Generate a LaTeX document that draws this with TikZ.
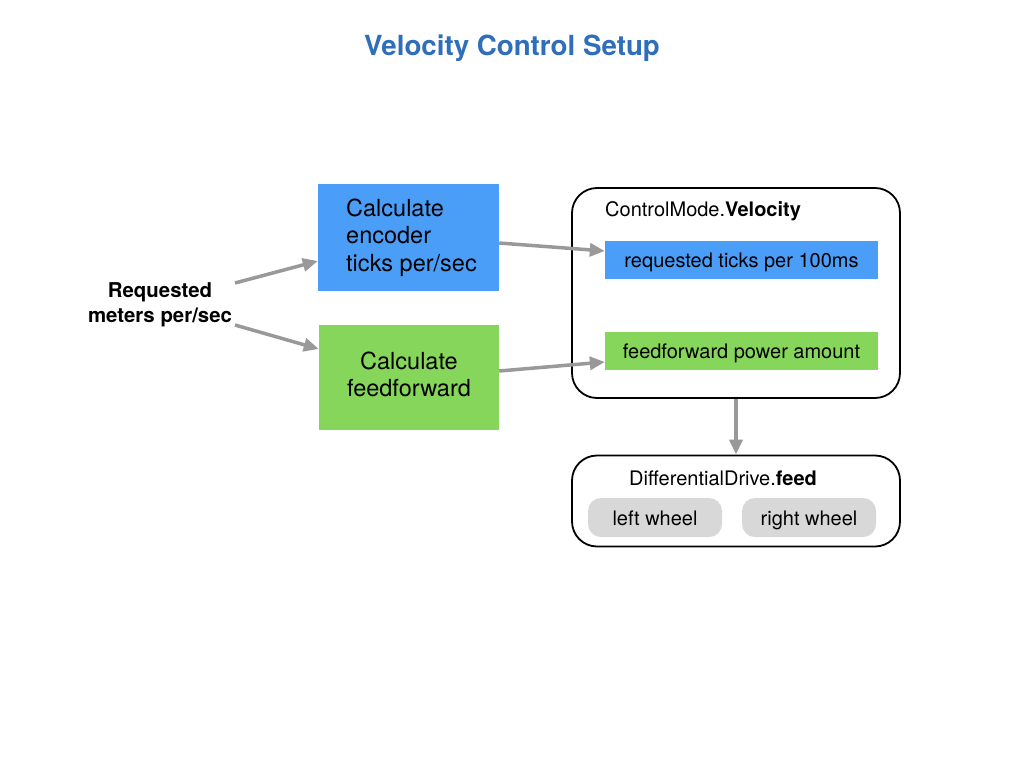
\documentclass[tikz,border=0pt]{standalone}
\usepackage{fontspec}
\setmainfont{TeX Gyre Heros}
\usetikzlibrary{arrows.meta,calc}
\definecolor{boxblue}{HTML}{4A9EF8}
\definecolor{boxgreen}{HTML}{85D65A}
\definecolor{titleblue}{HTML}{2F6EBA}
\definecolor{pillgray}{HTML}{D8D8D8}
\definecolor{arrgray}{HTML}{999999}
\begin{document}
\begin{tikzpicture}[x=1pt,y=-1pt,
  arr/.style={draw=arrgray,line width=3.5pt,-{Triangle[length=15pt,width=13pt]}},
  calcbox/.style={inner sep=0pt,font=\fontsize{23.5}{27.5}\selectfont},
  innerbox/.style={inner sep=0pt,minimum width=273pt,minimum height=38pt,text height=18pt,text depth=4pt,font=\fontsize{20}{24}\selectfont},
  container/.style={draw=black,line width=1.8pt,rounded corners=25pt,inner sep=0pt,minimum width=328pt},
  pill/.style={fill=pillgray,rounded corners=13pt,inner sep=0pt,minimum width=134pt,minimum height=39pt,text height=19pt,text depth=4pt,font=\fontsize{20}{24}\selectfont},
  lbl/.style={inner sep=0pt,font=\fontsize{20}{24}\selectfont}
]
\useasboundingbox[fill=white] (0,0) rectangle (1024,768);

\node[font=\fontsize{27.7}{32}\selectfont\bfseries,text=titleblue] (title) at (512,48.5) {Velocity Control Setup};

\node[calcbox,fill=boxblue,minimum width=181pt,minimum height=107pt] (calcA) at (408.5,237.5) {};
\node[calcbox,align=left,anchor=west] (calcAt) at (346,237.5) {Calculate\\encoder\\ticks per/sec};
\node[calcbox,fill=boxgreen,minimum width=180pt,minimum height=105pt] (calcB) at (409,377.5) {};
\node[calcbox,align=center] (calcBt) at (409,374.5) {Calculate\\feedforward};

\node[font=\fontsize{20.4}{25}\selectfont\bfseries,align=center] (req) at (160,304.5) {Requested\\meters per/sec};
\coordinate (s1) at (235,283);
\coordinate (s2) at (235,325);

\node[container,minimum height=210pt] (vel) at (736,293) {};
\node[lbl,anchor=base west] (velt) at (605,216.7) {ControlMode.\textbf{Velocity}};
\node[innerbox,fill=boxblue] (ticks) at (741.5,260) {requested ticks per 100ms};
\node[innerbox,fill=boxgreen] (ff) at (741.5,351) {feedforward power amount};

\node[container,minimum height=91pt] (drive) at (736,501) {};
\node[lbl,anchor=base] (drivet) at (723,485) {DifferentialDrive.\textbf{feed}};
\node[pill] (lw) at (655,517.5) {left wheel};
\node[pill] (rw) at (809,517.5) {right wheel};

\draw[arr] (s1) -- ([yshift=-23.5pt]calcA.west);
\draw[arr] (s2) -- ([yshift=28.5pt]calcB.west);
\draw[arr] ([yshift=-5.5pt]calcA.east) -- ([yshift=9pt]ticks.west);
\draw[arr] ([yshift=6.5pt]calcB.east) -- ([yshift=-11pt]ff.west);
\draw[arr] (vel.south) -- (drive.north);
\end{tikzpicture}
\end{document}
